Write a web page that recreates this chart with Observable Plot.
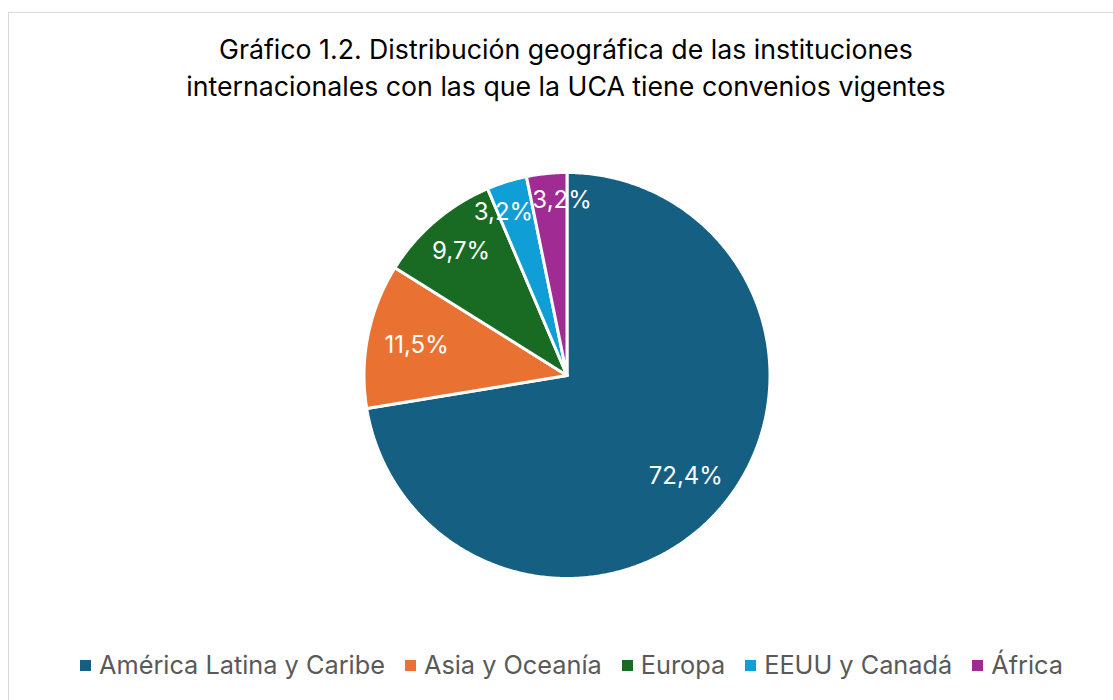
<!DOCTYPE html>
<html>
<head>
<meta charset="utf-8">
<script src="https://cdn.jsdelivr.net/npm/d3@7"></script>
<script src="https://cdn.jsdelivr.net/npm/@observablehq/plot@0.6"></script>
<style>
  html, body { margin: 0; padding: 0; background: #fff; overflow: hidden; }
  #frame { position: absolute; left: 8px; top: 12px; width: 1200px; height: 800px; border: 1px solid #d9d9d9; pointer-events: none; }
  #wrap { position: relative; width: 1113px; height: 700px; font-family: Inter, "Noto Sans", sans-serif; }
  #title { box-sizing: border-box; height: 160px; padding-top: 31px; padding-left: 19px; text-align: center; font-size: 26.7px; line-height: 37px; color: #000; }
  #chart svg { display: block; }
  #legend { display: flex; justify-content: center; align-items: center; padding-left: 30px; margin-top: 30px; font-size: 25.3px; line-height: 30px; color: #595959; }
  .item { display: flex; align-items: center; margin-right: 20px; }
  .item:last-child { margin-right: 0; }
  .sw { width: 11px; height: 11px; margin-right: 8px; }
</style>
</head>
<body>
<div id="frame"></div>
<div id="wrap">
  <div id="title">Gráfico 1.2. Distribución geográfica de las instituciones<br>internacionales con las que la UCA tiene convenios vigentes</div>
  <div id="chart"></div>
  <div id="legend"></div>
</div>
<script>
const categories = ["América Latina y Caribe", "Asia y Oceanía", "Europa", "EEUU y Canadá", "África"];
const shares = [72.4, 11.5, 9.7, 3.2, 3.2];
const labels = ["72,4%", "11,5%", "9,7%", "3,2%", "3,2%"];
const colors = ["#156082", "#E97132", "#196B24", "#0F9ED5", "#A02B93"];

// layout constants
const W = 1113, H = 460, CX = 566.5, CY = 215, R = 203;
const FS = 24;

const total = d3.sum(shares);
const slices = [];
const lab = [];
let cum = 0;
shares.forEach((v, i) => {
  const a0 = cum / total * 2 * Math.PI;
  cum += v;
  const a1 = cum / total * 2 * Math.PI;
  const n = Math.max(4, Math.ceil((a1 - a0) / (Math.PI / 360)));
  slices.push({cat: categories[i], x: 0, y: 0});
  for (let k = 0; k <= n; k++) {
    const a = a0 + (a1 - a0) * k / n;
    slices.push({cat: categories[i], x: Math.sin(a), y: Math.cos(a)});
  }
  slices.push({cat: categories[i], x: 0, y: 0});
  const am = (a0 + a1) / 2;
  const hw = labels[i].length * 0.3 * FS, hh = 12;
  const rp = R - (hw * Math.abs(Math.sin(am)) + hh * Math.abs(Math.cos(am))) - 12;
  lab.push({cat: categories[i], text: labels[i], px: rp * Math.sin(am), py: rp * Math.cos(am), hw, hh});
});
// simple collision resolution between neighbouring labels (pixel units)
for (let iter = 0; iter < 5; iter++) {
  for (let i = 0; i < lab.length - 1; i++) {
    const a = lab[i], b = lab[i + 1];
    const dx = b.px - a.px, dy = b.py - a.py;
    const need = a.hw + b.hw;
    if (Math.abs(dy) < a.hh + b.hh && Math.abs(dx) < need) {
      const s = Math.sign(dx) || 1;
      const d = (need - Math.abs(dx)) / 2 + 0.5;
      a.px -= s * d; b.px += s * d;
    }
  }
}
const labelData = lab.map(d => ({cat: d.cat, text: d.text, x: d.px / R, y: d.py / R}));

const plot = Plot.plot({
  width: W,
  height: H,
  margin: 0,
  style: {fontFamily: "Inter, 'Noto Sans', sans-serif", background: "transparent"},
  x: {domain: [-1, 1], range: [CX - R, CX + R], axis: null},
  y: {domain: [-1, 1], range: [CY + R, CY - R], axis: null},
  color: {domain: categories, range: colors},
  marks: [
    Plot.line(slices, {x: "x", y: "y", z: "cat", fill: "cat", stroke: "white", strokeWidth: 3, strokeLinejoin: "round", curve: "linear"}),
    Plot.text(labelData, {x: "x", y: "y", text: "text", fill: "white", fontSize: FS})
  ]
});
document.getElementById("chart").appendChild(plot);

const leg = d3.select("#legend");
categories.forEach((c, i) => {
  const it = leg.append("div").attr("class", "item");
  it.append("div").attr("class", "sw").style("background", colors[i]);
  it.append("span").text(c);
});
</script>
</body>
</html>
